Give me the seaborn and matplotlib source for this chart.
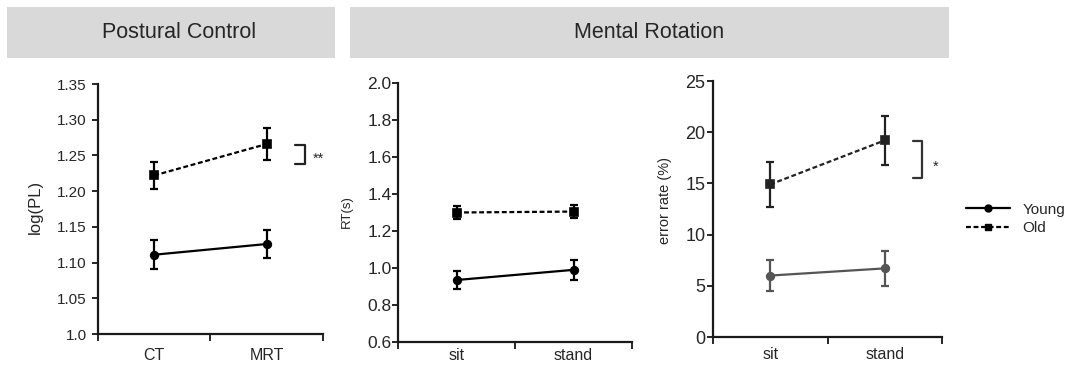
import matplotlib
matplotlib.use("Agg")
import matplotlib.pyplot as plt
from matplotlib.patches import Rectangle
from matplotlib.lines import Line2D
import seaborn as sns
import pandas as pd

groups = ["Young", "Old"]

# Postural control: log(PL)
pc_conditions = ["CT", "MRT"]
pc_young = [1.111, 1.126]
pc_young_err = [0.020, 0.020]
pc_old = [1.222, 1.266]
pc_old_err = [0.019, 0.022]
pc_ticks = [1.0, 1.05, 1.10, 1.15, 1.20, 1.25, 1.30, 1.35]
pc_ticklabels = ["1.0", "1.05", "1.10", "1.15", "1.20", "1.25", "1.30", "1.35"]

# Mental rotation: reaction time and error rate
mr_conditions = ["sit", "stand"]
rt_young = [0.935, 0.990]
rt_young_err = [0.050, 0.053]
rt_old = [1.300, 1.305]
rt_old_err = [0.033, 0.033]
rt_ticks = [0.6, 0.8, 1.0, 1.2, 1.4, 1.6, 1.8, 2.0]
rt_ticklabels = ["0.6", "0.8", "1.0", "1.2", "1.4", "1.6", "1.8", "2.0"]

er_young = [6.0, 6.7]
er_young_err = [1.55, 1.7]
er_old = [14.9, 19.2]
er_old_err = [2.2, 2.4]
er_ticks = [0, 5, 10, 15, 20, 25]
er_ticklabels = ["0", "5", "10", "15", "20", "25"]

sns.set_style("ticks")
plt.rcParams["font.family"] = ["Liberation Sans", "DejaVu Sans"]

LW = 1.6
DASH = (0, (2.2, 1.2))


def make_frame(conditions, young, old):
    return pd.DataFrame({
        "condition": conditions * 2,
        "value": young + old,
        "group": ["Young"] * len(young) + ["Old"] * len(old),
    })


def draw_panel(ax, conditions, young, young_err, old, old_err, colors,
               ticks, ticklabels, ytick_size, ytick_pad, xtick_pad):
    df = make_frame(conditions, young, old)
    sns.pointplot(data=df, x="condition", y="value", hue="group",
                  hue_order=groups, palette=colors, markers=["o", "s"],
                  linestyles=["-", DASH], errorbar=None, markersize=5.5,
                  linewidth=LW, ax=ax, legend=False)
    xs = list(range(len(conditions)))
    for vals, errs, c in [(young, young_err, colors[0]),
                          (old, old_err, colors[1])]:
        ax.errorbar(xs, vals, yerr=errs, fmt="none", ecolor=c,
                    elinewidth=LW, capsize=3, capthick=LW, zorder=1)
    ax.set_xlim(-0.5, 1.5)
    ax.set_ylim(ticks[0], ticks[-1])
    ax.set_xticks([-0.5, 0.5, 1.5], ["", "", ""])
    ax.set_xticks(xs, labels=conditions, minor=True)
    ax.tick_params(axis="x", which="major", length=5, width=1.4,
                   direction="out")
    ax.tick_params(axis="x", which="minor", length=0, pad=xtick_pad,
                   labelsize=11.5)
    ax.set_yticks(ticks, ticklabels)
    ax.tick_params(axis="y", length=4, width=1.4, pad=ytick_pad,
                   labelsize=ytick_size)
    ax.set_xlabel("")
    ax.set_ylabel("")
    sns.despine(ax=ax)
    for s in ["left", "bottom"]:
        ax.spines[s].set_linewidth(1.6)
        ax.spines[s].set_color("#1a1a1a")
        ax.spines[s].set_clip_on(False)


W, H = 1073, 368
fig = plt.figure(figsize=(W / 100, H / 100), dpi=100)


def px_axes(left, right, top, bottom):
    return fig.add_axes([left / W, (H - bottom) / H,
                         (right - left) / W, (bottom - top) / H])


ax1 = px_axes(98, 323, 84, 334)
ax2 = px_axes(398, 632, 83, 342)
ax3 = px_axes(713, 942, 81, 337)

draw_panel(ax1, pc_conditions, pc_young, pc_young_err, pc_old, pc_old_err,
           ["black", "black"], pc_ticks, pc_ticklabels, 11, 4, 10)
draw_panel(ax2, mr_conditions, rt_young, rt_young_err, rt_old, rt_old_err,
           ["black", "black"], rt_ticks, rt_ticklabels, 12.5, 0.5, 4)
draw_panel(ax3, mr_conditions, er_young, er_young_err, er_old, er_old_err,
           ["#555555", "#222222"], er_ticks, er_ticklabels, 13, 1.5, 7)

# significance brackets
ax1.plot([1.25, 1.34, 1.34, 1.25], [1.265, 1.265, 1.2375, 1.2375],
         color="#222222", lw=LW, clip_on=False)
ax1.text(1.46, 1.246, "**", ha="center", va="center", fontsize=10.5)
ax3.plot([1.247, 1.325, 1.325, 1.247], [19.1, 19.1, 15.5, 15.5],
         color="#333333", lw=LW, clip_on=False)
ax3.text(1.44, 16.6, "*", ha="center", va="center", fontsize=10.5)

# y labels
fig.text(35 / W, 1 - 207 / H, "log(PL)", rotation=90, ha="center",
         va="center", fontsize=12)
fig.text(347 / W, 1 - 212 / H, "RT(s)", rotation=90, ha="center",
         va="center", fontsize=9.5)
fig.text(665 / W, 1 - 200 / H, "error rate (%)", rotation=90, ha="center",
         va="center", fontsize=10.5)

# header boxes
for x0, x1, label, tx in [(7, 335, "Postural Control", 179),
                          (350, 949, "Mental Rotation", 649)]:
    fig.patches.append(Rectangle((x0 / W, 1 - 58 / H), (x1 - x0) / W,
                                 51 / H, transform=fig.transFigure,
                                 facecolor="#d9d9d9", edgecolor="none"))
    fig.text(tx / W, 1 - 33 / H, label, ha="center", va="center",
             fontsize=15.5)

# legend
handles = [
    Line2D([], [], color="black", lw=LW, marker="o", markersize=5,
           linestyle="-"),
    Line2D([], [], color="black", lw=LW, marker="s", markersize=5,
           linestyle=DASH),
]
fig.legend(handles, groups, loc="center left",
           bbox_to_anchor=(966 / W, 1 - 219 / H), frameon=False,
           fontsize=11, handlelength=2.9, handletextpad=0.8,
           labelspacing=0.3, borderpad=0, borderaxespad=0)

fig.savefig("out.png", dpi=100)
